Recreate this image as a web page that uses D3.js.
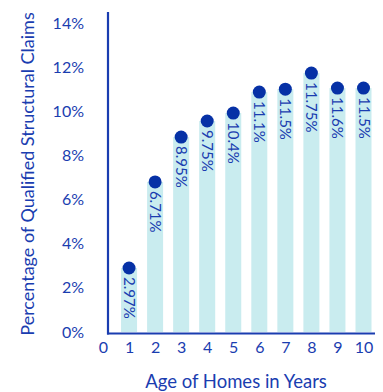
<!DOCTYPE html>
<html><head><meta charset="utf-8">
<script src="https://cdn.jsdelivr.net/npm/d3@7"></script>
<style>body{margin:0;background:#fff}svg{display:block}</style>
</head><body>
<svg id="c" width="383" height="392"></svg>
<script>
const ages = [1,2,3,4,5,6,7,8,9,10];
const values = [2.9, 6.8, 8.83, 9.56, 9.92, 10.87, 11.0, 11.73, 11.05, 11.05];
const labels = ["2.97%","6.71%","8.95%","9.75%","10.4%","11.1%","11.5%","11.75%","11.6%","11.5%"];
const yTicks = [0,2,4,6,8,10,12,14];
const xTicks = [0,1,2,3,4,5,6,7,8,9,10];

const blue = "#1a3db0", dot = "#0631a6", barCol = "#c9ecef";
const font = "Lato, 'Open Sans', sans-serif";
const svg = d3.select("#c");
const x = d3.scaleLinear().domain([0,10]).range([103,363.5]);
const y = d3.scaleLinear().domain([0,14]).range([332,23]);

// bars
svg.selectAll("rect.bar").data(ages).enter().append("rect")
  .attr("x", (d)=>x(d)-8).attr("width",16)
  .attr("y",(d,i)=>y(values[i])).attr("height",(d,i)=>y(0)-y(values[i]))
  .attr("fill",barCol);
// dots
svg.selectAll("circle").data(ages).enter().append("circle")
  .attr("cx",d=>x(d)).attr("cy",(d,i)=>y(values[i])).attr("r",6.5).attr("fill",dot);
// labels
svg.selectAll("text.lab").data(ages).enter().append("text")
  .attr("transform",(d,i)=>`translate(${x(d)-5},${y(values[i])+9}) rotate(90)`)
  .attr("font-family",font).attr("font-size",15).attr("fill",blue)
  .text((d,i)=>labels[i]);

// y axis
const ya = svg.append("g").attr("transform","translate(84,0)")
  .call(d3.axisLeft(y).tickValues(yTicks).tickSize(0).tickPadding(0).tickFormat(d=>d+"%"));
ya.select(".domain").remove();
ya.selectAll("text").attr("font-family",font).attr("font-size",16).attr("fill",blue).attr("dy","0.32em");
// x axis
const xa = svg.append("g").attr("transform","translate(0,342)")
  .call(d3.axisBottom(x).tickValues(xTicks).tickSize(0).tickPadding(0).tickFormat(d3.format("d")));
xa.select(".domain").remove();
xa.selectAll("text").attr("font-family",font).attr("font-size",16).attr("fill",blue);

// axis lines
svg.append("line").attr("x1",108).attr("x2",108).attr("y1",12).attr("y2",334.5).attr("stroke",blue).attr("stroke-width",2.2);
svg.append("line").attr("x1",107).attr("x2",375).attr("y1",333.5).attr("y2",333.5).attr("stroke",blue).attr("stroke-width",2.2);

// titles
svg.append("text").attr("transform","translate(34,174) rotate(-90)").attr("text-anchor","middle")
  .attr("font-family",font).attr("font-size",18).attr("fill",blue).text("Percentage of Qualified Structural Claims");
svg.append("text").attr("x",236).attr("y",388).attr("text-anchor","middle")
  .attr("font-family",font).attr("font-size",18.5).attr("fill",blue).text("Age of Homes in Years");
</script>
</body></html>
